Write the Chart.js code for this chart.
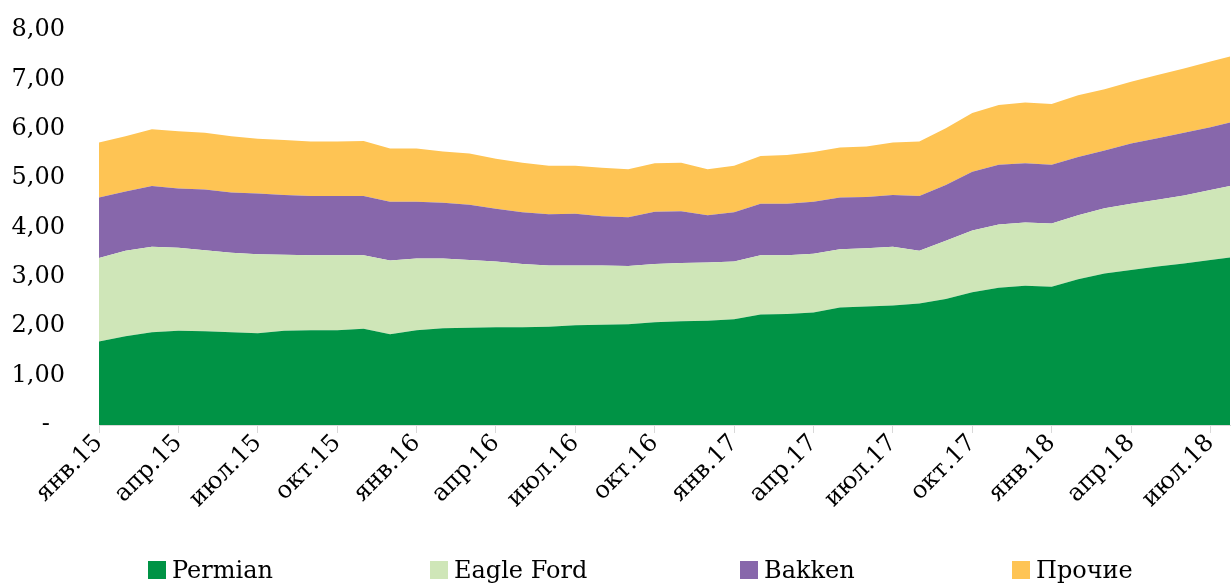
<!DOCTYPE html>
<html>
<head>
<meta charset="utf-8">
<script src="https://cdn.jsdelivr.net/npm/chart.js@4.4.1/dist/chart.umd.min.js"></script>
<style>
  html, body { margin: 0; padding: 0; background: #fff; overflow: hidden; }
  #wrap { position: relative; width: 1231px; height: 585px; }
  #legend { position: absolute; left: 0; top: 555px; width: 1231px; height: 30px;
            font-family: "DejaVu Serif", serif; font-size: 24px; color: #000; }
  .item { position: absolute; top: 0; white-space: nowrap; line-height: 30px; }
  .box { display: inline-block; width: 18px; height: 18px; margin-right: 6px; vertical-align: -1px; }
</style>
</head>
<body>
<div id="wrap">
  <canvas id="chart" width="1231" height="585"></canvas>
  <div id="legend"></div>
</div>
<script>
// months jan.15 .. aug.18
const monthNames = ['янв', 'фев', 'мар', 'апр', 'май', 'июн', 'июл', 'авг', 'сен', 'окт', 'ноя', 'дек'];
const years = ['15', '16', '17', '18'];
const labels = [];
for (let i = 0; i < 44; i++) {
    labels.push(monthNames[i % 12] + '.' + years[Math.floor(i / 12)]);
}

const permian = [1.69, 1.80, 1.88, 1.91, 1.90, 1.88, 1.86, 1.91, 1.92, 1.92, 1.95, 1.84,
                 1.92, 1.96, 1.97, 1.98, 1.98, 1.99, 2.02, 2.03, 2.04, 2.08, 2.10, 2.11,
                 2.14, 2.24, 2.25, 2.28, 2.38, 2.40, 2.42, 2.46, 2.55, 2.69, 2.78, 2.82,
                 2.80, 2.95, 3.07, 3.14, 3.21, 3.27, 3.34, 3.41];
const eagleFord = [1.69, 1.73, 1.73, 1.68, 1.64, 1.61, 1.60, 1.54, 1.52, 1.52, 1.49, 1.49,
                   1.45, 1.41, 1.37, 1.33, 1.28, 1.24, 1.21, 1.20, 1.18, 1.18, 1.18, 1.18,
                   1.17, 1.20, 1.19, 1.19, 1.18, 1.18, 1.19, 1.07, 1.18, 1.25, 1.28, 1.28,
                   1.28, 1.30, 1.32, 1.34, 1.35, 1.38, 1.42, 1.46];
const bakken = [1.23, 1.20, 1.23, 1.20, 1.23, 1.22, 1.23, 1.21, 1.20, 1.20, 1.20, 1.19,
                1.15, 1.13, 1.12, 1.07, 1.05, 1.04, 1.05, 1.00, 0.99, 1.06, 1.05, 0.96,
                1.00, 1.04, 1.04, 1.05, 1.05, 1.04, 1.05, 1.11, 1.13, 1.19, 1.21, 1.20,
                1.19, 1.18, 1.17, 1.22, 1.25, 1.27, 1.27, 1.29];
const other = [1.11, 1.12, 1.15, 1.16, 1.15, 1.14, 1.11, 1.11, 1.10, 1.10, 1.11, 1.08,
               1.08, 1.04, 1.04, 1.01, 1.00, 0.98, 0.97, 0.98, 0.97, 0.98, 0.98, 0.93,
               0.94, 0.97, 0.99, 1.01, 1.01, 1.02, 1.06, 1.10, 1.15, 1.19, 1.21, 1.23,
               1.23, 1.25, 1.24, 1.25, 1.28, 1.30, 1.33, 1.34];

const seriesNames = ['Permian', 'Eagle Ford', 'Bakken', 'Прочие'];
const seriesColors = ['#009345', '#CFE6B8', '#8767AB', '#FEC454'];
const seriesData = [permian, eagleFord, bakken, other];
const legendLeft = [148, 430, 740, 1012];

const font = { family: 'DejaVu Serif', size: 24 };

function toPoints(arr) {
    return arr.map((v, i) => ({ x: i, y: v }));
}

const datasets = seriesData.map((d, k) => ({
    label: seriesNames[k],
    data: toPoints(d),
    backgroundColor: seriesColors[k],
    borderColor: seriesColors[k],
    borderWidth: 0,
    pointRadius: 0,
    tension: 0,
    fill: k === 0 ? 'origin' : '-1'
}));

const config = {
    type: 'line',
    data: { datasets: datasets },
    options: {
        responsive: false,
        animation: false,
        layout: { padding: { top: 30, right: 1, left: 0, bottom: 0 } },
        plugins: {
            legend: { display: false },
            tooltip: { enabled: false }
        },
        scales: {
            x: {
                type: 'linear',
                min: 0,
                max: 42.74,
                afterFit: function (scale) { scale.height = 160; },
                grid: { drawOnChartArea: false, color: '#d9d9d9', tickLength: 8 },
                border: { color: '#d9d9d9', width: 1 },
                ticks: {
                    stepSize: 3,
                    includeBounds: false,
                    autoSkip: false,
                    maxRotation: 45,
                    minRotation: 45,
                    padding: -4,
                    color: '#000',
                    font: font,
                    callback: function (v) { return labels[v]; }
                }
            },
            y: {
                stacked: true,
                min: 0,
                max: 8,
                afterFit: function (scale) {
                    scale.width = 99;
                    // big label padding should not push the plot down
                    scale.paddingTop = 12;
                    scale.paddingBottom = 12;
                },
                grid: { display: false, drawTicks: false },
                border: { display: false },
                ticks: {
                    stepSize: 1,
                    padding: 34,
                    color: '#000',
                    font: font,
                    callback: function (v) {
                        return v === 0 ? '-  ' : v.toFixed(2).replace('.', ',');
                    }
                }
            }
        }
    }
};

new Chart(document.getElementById('chart'), config);

// legend
const legend = document.getElementById('legend');
seriesNames.forEach((name, k) => {
    const item = document.createElement('div');
    item.className = 'item';
    item.style.left = legendLeft[k] + 'px';
    const box = document.createElement('span');
    box.className = 'box';
    box.style.background = seriesColors[k];
    item.appendChild(box);
    item.appendChild(document.createTextNode(name));
    legend.appendChild(item);
});
</script>
</body>
</html>
